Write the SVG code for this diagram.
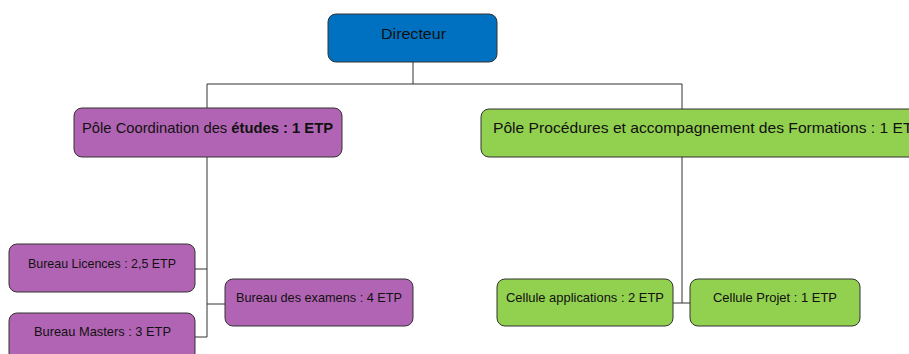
<svg xmlns="http://www.w3.org/2000/svg" width="909" height="354" viewBox="0 0 909 354">
<style>
.box{stroke:#333;stroke-width:1}
.blue{fill:#0070C0}
.purple{fill:#B264B4}
.green{fill:#92D050}
.t{font-family:"Liberation Sans",Arial,sans-serif;fill:#111}
.big{font-size:15px}
.small{font-size:13px}
.b{font-weight:bold}
.conn{stroke:#333;stroke-width:1;fill:none}
</style>
<rect width="909" height="354" fill="#fff"/>
<g id="connectors">
<path class="conn" d="M413 62V84M207 84H682M207 84V108M682 84V109"/>
<path class="conn" d="M207 157V337M195 269H207M195 337H207M207 304H225"/>
<path class="conn" d="M682 157V303M673 303H690"/>
</g>
<g id="directeur">
<rect class="box blue" x="328" y="14" width="169" height="48" rx="8"/>
<text class="t big" x="381" y="39" textLength="65" lengthAdjust="spacingAndGlyphs">Directeur</text>
</g>
<g id="pole-coordination">
<rect class="box purple" x="74" y="108" width="268" height="49" rx="8"/>
<text class="t big" x="82" y="133" textLength="251" lengthAdjust="spacingAndGlyphs">Pôle Coordination des <tspan class="b">études : 1 ETP</tspan></text>
</g>
<g id="pole-procedures">
<rect class="box green" x="481" y="109" width="440" height="48" rx="8"/>
<text class="t big" x="493" y="133" textLength="430" lengthAdjust="spacingAndGlyphs">Pôle Procédures et accompagnement des Formations : 1 ETP</text>
</g>
<g id="bureau-licences">
<rect class="box purple" x="9" y="244" width="186" height="48" rx="8"/>
<text class="t small" x="28" y="268" textLength="148" lengthAdjust="spacingAndGlyphs">Bureau Licences : 2,5 ETP</text>
</g>
<g id="bureau-masters">
<rect class="box purple" x="9" y="313" width="186" height="48" rx="8"/>
<text class="t small" x="34" y="336" textLength="137" lengthAdjust="spacingAndGlyphs">Bureau Masters : 3 ETP</text>
</g>
<g id="bureau-examens">
<rect class="box purple" x="225" y="279" width="188" height="47" rx="8"/>
<text class="t small" x="236" y="302" textLength="166" lengthAdjust="spacingAndGlyphs">Bureau des examens : 4 ETP</text>
</g>
<g id="cellule-applications">
<rect class="box green" x="497" y="279" width="176" height="47" rx="8"/>
<text class="t small" x="506" y="302" textLength="158" lengthAdjust="spacingAndGlyphs">Cellule applications : 2 ETP</text>
</g>
<g id="cellule-projet">
<rect class="box green" x="690" y="279" width="170" height="47" rx="8"/>
<text class="t small" x="713" y="302" textLength="124" lengthAdjust="spacingAndGlyphs">Cellule Projet : 1 ETP</text>
</g>
</svg>
